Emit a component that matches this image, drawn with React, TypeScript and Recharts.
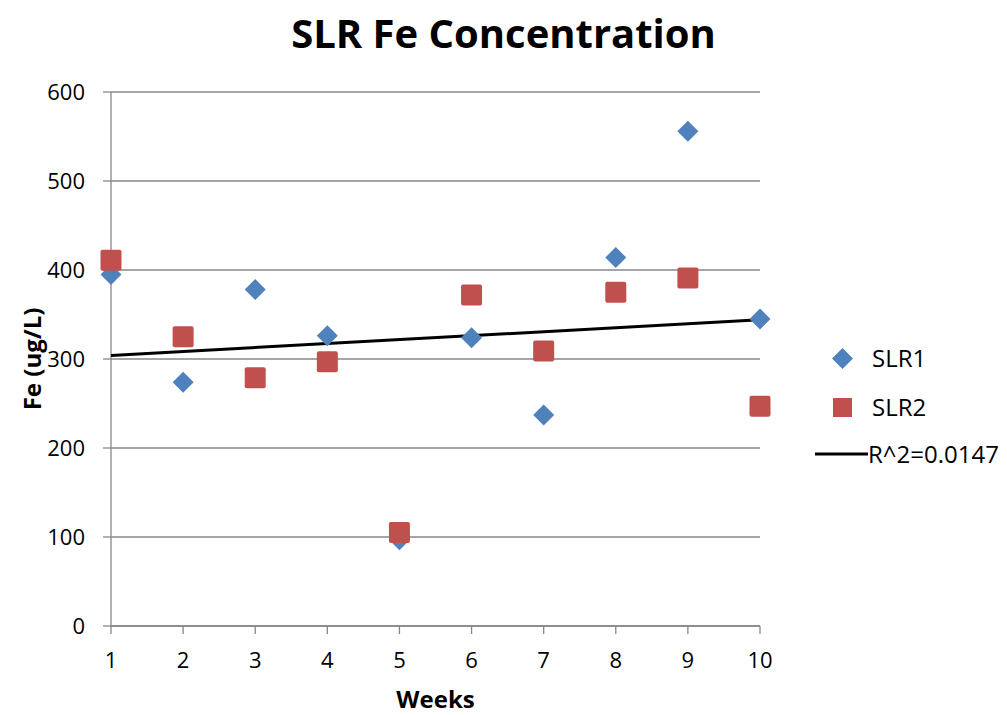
import {
  CartesianGrid,
  Legend,
  Scatter,
  ScatterChart,
  XAxis,
  YAxis,
} from "recharts";

const weeks = [1, 2, 3, 4, 5, 6, 7, 8, 9, 10];
const slr1 = [395, 274, 378, 326, 97, 324, 237, 414, 556, 345];
const slr2 = [411, 325, 279, 297, 105, 372, 309, 375, 391, 247];
const trendWeeks = [1, 10];
const trendFe = [304, 344];
const yTicks = [0, 100, 200, 300, 400, 500, 600];
const trendLabel = "R^2=0.0147";

const BLUE = "#4F81BD";
const RED = "#C0504D";
const GRID = "#878787";
const FONT = "'Open Sans', sans-serif";

const slr1Data = weeks.map((w, i) => ({ week: w, fe: slr1[i] }));
const slr2Data = weeks.map((w, i) => ({ week: w, fe: slr2[i] }));
const trendData = trendWeeks.map((w, i) => ({ week: w, fe: trendFe[i] }));

const Diamond = (p: any) => {
  const { cx, cy } = p;
  const r = 10.5;
  return (
    <polygon
      points={`${cx},${cy - r} ${cx + r},${cy} ${cx},${cy + r} ${cx - r},${cy}`}
      fill={BLUE}
    />
  );
};

const Square = (p: any) => {
  const { cx, cy } = p;
  const s = 21;
  return <rect x={cx - s / 2} y={cy - s / 2} width={s} height={s} rx={2} fill={RED} />;
};

const NoDot = () => <g />;

function LegendBox() {
  const txt = {
    position: "absolute" as const,
    fontSize: 24,
    color: "#000",
    lineHeight: "30px",
    whiteSpace: "nowrap" as const,
  };
  return (
    <div style={{ position: "relative", width: 195, height: 150, fontFamily: FONT }}>
      <svg style={{ position: "absolute", left: 19.5, top: 14.5 }} width={21} height={21}>
        <polygon points="10.5,0 21,10.5 10.5,21 0,10.5" fill={BLUE} />
      </svg>
      <span style={{ ...txt, left: 60, top: 10 }}>SLR1</span>
      <svg style={{ position: "absolute", left: 20, top: 64 }} width={21} height={21}>
        <rect x={1} y={1} width={19} height={19} fill={RED} />
      </svg>
      <span style={{ ...txt, left: 60, top: 59 }}>SLR2</span>
      <svg style={{ position: "absolute", left: 3, top: 119 }} width={53} height={4}>
        <line x1={0} y1={2} x2={53} y2={2} stroke="#000" strokeWidth={3} />
      </svg>
      <span style={{ ...txt, left: 56, top: 106 }}>{trendLabel}</span>
    </div>
  );
}

export default function App() {
  const tick = { fontSize: 22, fontFamily: FONT, fill: "#000" };
  return (
    <div style={{ position: "absolute", left: 0, top: 0, width: 1007, height: 715, background: "#fff" }}>
      <div
        style={{
          position: "absolute",
          left: 0,
          width: 1007,
          top: 13,
          textAlign: "center",
          fontFamily: FONT,
          fontWeight: 700,
          fontSize: 40,
          lineHeight: "40px",
        }}
      >
        SLR Fe Concentration
      </div>
      <ScatterChart
        width={1007}
        height={715}
        margin={{ top: 92, right: 52, bottom: 49, left: 51 }}
        style={{ fontFamily: FONT }}
      >
        <CartesianGrid vertical={false} stroke={GRID} strokeWidth={1.3} />
        <XAxis
          type="number"
          dataKey="week"
          domain={[1, 10]}
          ticks={weeks}
          height={40}
          tick={tick}
          tickSize={8}
          tickMargin={18}
          stroke={GRID}
          strokeWidth={1.3}
          label={{
            value: "Weeks",
            position: "insideBottom",
            offset: -42,
            style: { fontSize: 24, fontWeight: 700, fill: "#000", fontFamily: FONT },
          }}
        />
        <YAxis
          type="number"
          dataKey="fe"
          domain={[0, 600]}
          ticks={yTicks}
          width={60}
          tick={tick}
          tickSize={8}
          tickMargin={18}
          stroke={GRID}
          strokeWidth={1.3}
          label={{
            value: "Fe (ug/L)",
            angle: -90,
            position: "insideLeft",
            offset: -19,
            style: { fontSize: 24, fontWeight: 700, fill: "#000", fontFamily: FONT, textAnchor: "middle" },
          }}
        />
        <Legend
          layout="vertical"
          align="right"
          verticalAlign="top"
          width={195}
          wrapperStyle={{ left: 812, top: 333, right: "auto" }}
          content={() => <LegendBox />}
        />
        <Scatter
          name={trendLabel}
          data={trendData}
          line={{ stroke: "#000", strokeWidth: 3 }}
          shape={NoDot}
          isAnimationActive={false}
        />
        <Scatter name="SLR1" data={slr1Data} shape={Diamond} isAnimationActive={false} />
        <Scatter name="SLR2" data={slr2Data} shape={Square} isAnimationActive={false} />
      </ScatterChart>
    </div>
  );
}
